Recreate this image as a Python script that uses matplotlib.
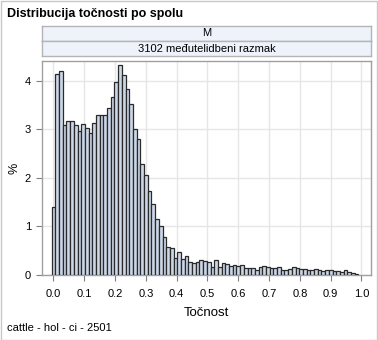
import matplotlib
matplotlib.use("Agg")
import matplotlib.pyplot as plt
from matplotlib.patches import Rectangle

plt.rcParams['font.family'] = ['Liberation Sans', 'DejaVu Sans']

# bin width 0.012, bins centred on k*0.012
bin_width = 0.012
pct = [1.40, 4.15, 4.20, 3.10, 3.18, 3.17, 3.10, 2.97, 3.12, 3.03,
       2.93, 3.13, 3.30, 3.30, 3.30, 3.45, 3.67, 3.97, 4.32, 4.12,
       3.83, 3.52, 3.00, 2.81, 2.28, 2.06, 1.74, 1.46, 1.15, 1.00,
       0.79, 0.58, 0.56, 0.36, 0.48, 0.32, 0.39, 0.26, 0.25, 0.27,
       0.30, 0.28, 0.27, 0.17, 0.30, 0.16, 0.24, 0.23, 0.19, 0.21,
       0.19, 0.20, 0.14, 0.15, 0.15, 0.10, 0.17, 0.18, 0.16, 0.15,
       0.14, 0.17, 0.11, 0.10, 0.12, 0.16, 0.15, 0.12, 0.12, 0.11,
       0.11, 0.12, 0.10, 0.08, 0.11, 0.10, 0.09, 0.08, 0.07, 0.10,
       0.07, 0.05, 0.03]
centers = [k * bin_width for k in range(len(pct))]

x_ticks = [0.0, 0.1, 0.2, 0.3, 0.4, 0.5, 0.6, 0.7, 0.8, 0.9, 1.0]
y_ticks = [0, 1, 2, 3, 4]

title = "Distribucija točnosti po spolu"
strip1 = "M"
strip2 = "3102 međutelidbeni razmak"
xlabel = "Točnost"
ylabel = "%"
footnote = "cattle - hol - ci - 2501"

W, H = 378, 340
fig = plt.figure(figsize=(W / 100, H / 100), dpi=100)

def box(x0, y0, x1, y1):
    # pixel box (top-left origin) -> figure fraction
    return [x0 / W, (H - y1) / H, (x1 - x0) / W, (y1 - y0) / H]

# outer border
fig.patches.append(Rectangle((0.5 / W, 0.5 / H), 1 - 1.5 / W, 1 - 1.5 / H,
                             transform=fig.transFigure, fill=False,
                             edgecolor='#c8c8c8', lw=1))

ax = fig.add_axes(box(42, 61, 371, 275))
ax.bar(centers, pct, width=bin_width, color='#cbd6e6', edgecolor='#2a2a2a',
       linewidth=0.9, zorder=3)
ax.set_xlim(-0.0373, 1.031)
ax.set_ylim(0, 4.41)
ax.set_xticks(x_ticks)
ax.set_xticklabels([f"{t:.1f}" for t in x_ticks])
ax.set_yticks(y_ticks)
ax.grid(True, color='#e6e6e6', lw=1, zorder=0)
ax.tick_params(labelsize=8, length=4, color='#808080')
ax.tick_params(axis='x', pad=6)
ax.tick_params(axis='y', pad=4)
for s in ax.spines.values():
    s.set_color('#a0a0a0')
    s.set_linewidth(1)
ax.set_xlabel(xlabel, fontsize=9.5, labelpad=6)
ax.set_ylabel(ylabel, fontsize=9, labelpad=3)

for (y0, y1), txt in [((26, 41), strip1), ((41, 56), strip2)]:
    sa = fig.add_axes(box(42, y0, 371, y1))
    sa.set_facecolor('#eef3fb')
    sa.set_xticks([])
    sa.set_yticks([])
    for s in sa.spines.values():
        s.set_color('#b4b4b4')
        s.set_linewidth(1)
    sa.text(0.5, 0.5, txt, ha='center', va='center', fontsize=8,
            transform=sa.transAxes)

fig.text(7 / W, 1 - 14 / H, title, ha='left', va='center', fontsize=9,
         fontweight='bold')
fig.text(7 / W, 1 - 328 / H, footnote, ha='left', va='center', fontsize=8)

fig.savefig("out.png", dpi=100)
